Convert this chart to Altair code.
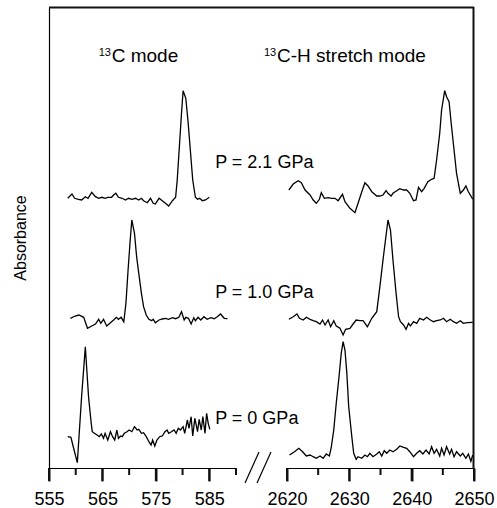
import altair as alt
import pandas as pd

# ---- 13C mode (left part of the broken axis) ----
c13_p21_wn = [558.5, 559.3, 559.8, 560.5, 561.1, 561.8, 562.3, 563.0, 563.7, 564.3, 564.9, 565.5, 566.0,
              566.7, 567.1, 567.5, 568.0, 568.7, 569.3, 569.9, 570.5, 571.2, 571.8, 572.3, 572.7, 573.4,
              574.0, 574.5, 574.9, 575.6, 576.2, 576.8, 577.4, 578.1, 578.7, 579.0, 579.4, 579.8, 580.1,
              580.6, 581.0, 581.5, 581.9, 582.4, 582.8, 583.2, 583.7, 584.3, 585.0]
c13_p21_ab = [269.7, 274.0, 269.7, 268.7, 268.0, 271.3, 269.7, 275.7, 271.3, 269.7, 270.7, 269.7, 270.7,
              270.7, 273.0, 274.7, 270.7, 269.7, 268.0, 269.7, 268.7, 269.7, 268.0, 269.7, 267.3, 265.3,
              269.7, 264.7, 264.0, 269.7, 267.3, 264.7, 262.0, 267.3, 270.7, 288.0, 321.3, 354.7, 377.3,
              369.7, 348.0, 314.7, 288.0, 270.7, 268.7, 269.7, 267.3, 268.0, 270.7]

c13_p10_wn = [559.0, 559.9, 560.6, 561.5, 562.2, 563.0, 563.7, 564.3, 564.7, 565.2, 565.8, 566.5, 567.1,
              567.6, 568.0, 568.5, 569.0, 569.4, 569.8, 570.2, 570.5, 571.0, 571.4, 571.8, 572.3, 572.7,
              573.2, 573.7, 574.2, 574.5, 574.9, 575.6, 576.2, 576.8, 577.4, 578.1, 578.7, 579.3, 579.8,
              580.3, 580.6, 581.1, 581.6, 582.1, 582.4, 582.9, 583.4, 584.0, 584.6, 585.3, 585.9, 586.5,
              587.1, 587.8, 588.4]
c13_p10_ab = [149.7, 152.0, 153.0, 150.7, 139.7, 142.0, 144.0, 148.7, 144.7, 148.7, 142.0, 145.3, 148.0,
              150.7, 148.7, 150.7, 146.3, 164.7, 198.0, 228.0, 248.0, 234.7, 211.3, 194.7, 174.7, 161.3,
              153.0, 148.7, 147.3, 148.7, 145.3, 148.0, 149.0, 149.7, 148.7, 150.3, 149.3, 150.7, 156.3,
              148.0, 150.7, 149.7, 144.0, 150.3, 147.3, 150.7, 148.0, 151.3, 148.7, 150.3, 149.3, 151.3,
              154.0, 149.7, 149.3]

c13_p0_wn = [558.5, 559.1, 559.6, 560.3, 561.1, 561.8, 562.4, 562.9, 563.1, 563.5, 564.0, 564.4, 564.8,
             565.2, 565.5, 566.0, 566.5, 566.9, 567.3, 567.7, 568.0, 568.4, 568.7, 569.1, 569.6, 570.0,
             570.5, 571.0, 571.5, 571.8, 572.3, 572.7, 573.2, 573.7, 574.1, 574.4, 574.8, 575.2, 575.7,
             576.2, 576.7, 577.1, 577.4, 577.9, 578.4, 578.8, 579.2, 579.6, 580.1, 580.4, 580.9, 581.2,
             581.6, 581.9, 582.3, 582.8, 583.1, 583.5, 583.8, 584.2, 584.5, 584.8, 585.1]
c13_p0_ab = [31.3, 30.7, 20.0, 5.3, 71.3, 121.3, 71.3, 44.7, 36.3, 34.7, 33.0, 31.3, 34.0,
             29.7, 34.7, 28.0, 36.3, 31.3, 28.0, 38.0, 29.7, 32.0, 31.3, 34.7, 36.3, 38.0,
             36.3, 41.3, 38.0, 38.7, 34.7, 35.3, 31.3, 26.3, 23.0, 28.0, 22.0, 28.0, 31.3,
             32.0, 36.3, 38.0, 34.7, 36.3, 38.0, 34.7, 39.7, 38.0, 41.3, 34.7, 48.0, 39.7,
             51.3, 32.0, 49.7, 36.3, 48.7, 38.0, 51.3, 34.7, 54.7, 44.7, 38.7]

# ---- 13C-H stretch mode (right part of the broken axis) ----
ch_p21_wn = [2620.3, 2621.0, 2621.8, 2622.3, 2622.9, 2623.7, 2624.2, 2624.7, 2625.2, 2625.5, 2626.0,
             2626.6, 2627.1, 2627.7, 2628.2, 2628.9, 2629.3, 2630.1, 2630.9, 2631.4, 2632.0, 2632.5,
             2633.0, 2633.6, 2634.4, 2634.9, 2635.4, 2635.9, 2636.2, 2636.7, 2637.0, 2637.6, 2638.1,
             2638.7, 2639.2, 2639.7, 2640.3, 2640.7, 2641.1, 2641.6, 2642.0, 2642.6, 2643.2, 2643.6,
             2644.0, 2644.5, 2644.8, 2645.3, 2645.6, 2646.0, 2646.4, 2646.8, 2647.2, 2647.8, 2648.3,
             2648.7, 2649.1, 2649.8]
ch_p21_ab = [278.0, 284.0, 287.3, 285.3, 278.0, 273.0, 268.0, 264.7, 268.7, 275.3, 269.7,
             270.3, 269.7, 269.7, 267.3, 273.7, 266.3, 259.7, 255.3, 264.7, 276.3, 285.3,
             282.0, 276.3, 272.0, 272.0, 273.0, 277.3, 274.7, 272.0, 274.7, 277.3, 279.3,
             278.0, 278.0, 274.7, 267.3, 268.0, 280.7, 276.3, 279.7, 286.3, 288.7, 289.7,
             308.0, 334.7, 358.0, 377.3, 371.3, 366.3, 341.3, 318.0, 294.7, 274.7, 278.0,
             282.0, 276.3, 268.7]

ch_p10_wn = [2620.3, 2621.0, 2621.6, 2622.0, 2622.6, 2623.1, 2623.7, 2624.2, 2624.7, 2625.3, 2625.7,
             2626.1, 2626.6, 2627.0, 2627.5, 2627.9, 2628.5, 2629.0, 2629.4, 2630.1, 2630.6, 2631.1,
             2631.7, 2632.2, 2632.9, 2633.6, 2634.4, 2634.9, 2635.4, 2636.0, 2636.2, 2636.6, 2637.0,
             2637.5, 2637.9, 2638.2, 2638.7, 2639.1, 2639.5, 2639.8, 2640.3, 2640.8, 2641.3, 2641.9,
             2642.4, 2643.0, 2643.5, 2644.0, 2644.6, 2645.1, 2645.6, 2646.2, 2646.7, 2647.2, 2647.8,
             2648.3, 2648.9, 2649.8]
ch_p10_ab = [148.7, 151.3, 154.0, 149.7, 148.0, 150.7, 148.7, 147.3, 146.3, 144.0, 148.0,
             143.0, 148.0, 141.3, 147.3, 142.0, 139.7, 133.0, 138.7, 139.7, 144.0, 148.0,
             147.3, 147.3, 141.3, 149.7, 156.3, 181.3, 208.0, 238.0, 248.0, 238.0, 208.0,
             174.7, 151.3, 146.3, 143.0, 138.7, 144.7, 142.0, 146.3, 144.7, 149.7, 148.0,
             150.7, 148.0, 146.3, 147.3, 148.0, 149.7, 146.3, 148.7, 146.3, 144.7, 147.3,
             144.7, 145.3, 145.7]

ch_p0_wn = [2620.4, 2621.2, 2621.9, 2622.5, 2623.1, 2623.7, 2624.2, 2624.7, 2625.3, 2625.8, 2626.3,
            2626.8, 2627.1, 2627.5, 2627.9, 2628.4, 2628.7, 2629.0, 2629.3, 2629.6, 2629.9, 2630.4,
            2630.7, 2631.1, 2631.4, 2632.0, 2632.5, 2632.9, 2633.3, 2633.8, 2634.4, 2634.8, 2635.2,
            2635.6, 2636.0, 2636.5, 2637.0, 2637.6, 2638.1, 2638.7, 2639.2, 2639.7, 2640.3, 2640.8,
            2641.3, 2641.8, 2642.3, 2642.8, 2643.2, 2643.6, 2644.0, 2644.5, 2644.8, 2645.2, 2645.6,
            2646.1, 2646.4, 2646.8, 2647.2, 2647.8, 2648.2, 2648.7, 2649.1, 2649.5, 2649.8]
ch_p0_ab = [13.0, 16.3, 19.7, 16.3, 12.0, 13.0, 11.3, 9.7, 12.0, 9.7, 14.0,
            12.0, 20.7, 38.0, 64.7, 94.7, 114.7, 126.3, 118.0, 94.7, 61.3, 31.3,
            14.7, 8.7, 11.3, 9.7, 13.0, 11.3, 14.7, 11.3, 14.0, 16.3, 12.0,
            17.3, 14.7, 18.0, 16.3, 18.7, 22.0, 20.7, 19.7, 16.3, 11.3, 14.7,
            17.3, 14.0, 18.0, 14.0, 21.3, 14.7, 18.7, 12.0, 19.7, 13.0, 21.3,
            14.0, 18.7, 11.3, 16.3, 12.0, 14.7, 9.7, 14.0, 6.7, 13.0]

major_ticks = [555, 565, 575, 585, 2620, 2630, 2640, 2650]
minor_ticks = [560, 570, 580, 590, 2625, 2635, 2645]
seg_start = [555, 2620]
seg_end = [590, 2650]


def frame(name, wn, ab):
    return pd.DataFrame({"wn": wn, "ab": ab, "trace": name})


spec_df = pd.concat([frame("13C 2.1", c13_p21_wn, c13_p21_ab),
                     frame("13C 1.0", c13_p10_wn, c13_p10_ab),
                     frame("13C 0", c13_p0_wn, c13_p0_ab),
                     frame("CH 2.1", ch_p21_wn, ch_p21_ab),
                     frame("CH 1.0", ch_p10_wn, ch_p10_ab),
                     frame("CH 0", ch_p0_wn, ch_p0_ab)])

W, H = 425, 461
FONT = "Liberation Sans"
INK = "#111111"
TW = 2

# broken (piecewise linear) wavenumber scale
x_scale = alt.Scale(domain=[555, 590, 2620, 2650], range=[0, 187, 238, 425], nice=False, zero=False)
y_scale = alt.Scale(domain=[0, 461], nice=False, zero=False)

x_enc = alt.X("wn:Q", scale=x_scale,
              axis=alt.Axis(title=None, values=major_ticks, orient="bottom", grid=False, domain=False,
                            ticks=True, tickSize=13, tickColor=INK, tickWidth=TW,
                            labelFontSize=18, labelColor="black", labelFont=FONT,
                            labelPadding=9, format="d", labelFlush=False, labelOverlap=False))
y_enc = alt.Y("ab:Q", scale=y_scale,
              axis=alt.Axis(title="Absorbance", labels=False, ticks=False, grid=False,
                            domainColor="black", domainWidth=1.2, titleFontSize=16,
                            titleFontWeight="normal", titlePadding=21, minExtent=0,
                            titleColor="black", titleFont=FONT))

lines = alt.Chart(spec_df).mark_line(color="black", strokeWidth=1.3).encode(
    x=x_enc, y=y_enc, detail="trace:N")

major = alt.Chart(pd.DataFrame({"wn": major_ticks})).mark_rule(color=INK, strokeWidth=TW).encode(
    x=alt.X("wn:Q"), y=alt.value(H), y2=alt.value(H + 13))
minor = alt.Chart(pd.DataFrame({"wn": minor_ticks})).mark_rule(color=INK, strokeWidth=TW).encode(
    x=alt.X("wn:Q"), y=alt.value(H), y2=alt.value(H + 7))

axis_segments = alt.Chart(pd.DataFrame({"wn": seg_start, "wn2": seg_end})).mark_rule(
    color="black", strokeWidth=1.2).encode(x=alt.X("wn:Q"), x2="wn2:Q", y=alt.value(H + 0.5))


def label(text, x, y, size):
    return alt.Chart(pd.DataFrame({"a": [0]})).mark_text(
        text=text, align="left", baseline="alphabetic", fontSize=size, font=FONT, color="black"
    ).encode(x=x, y=y)


texts = [
    label("13", alt.datum(564.3), alt.datum(412), 11),
    label("C mode", alt.datum(566.73), alt.datum(406), 19),
    label("13", alt.value(215), alt.datum(412), 11),
    label("C-H stretch mode", alt.value(228), alt.datum(406), 19),
    label("P = 2.1 GPa", alt.datum(586.1), alt.datum(300), 18),
    label("P = 1.0 GPa", alt.datum(586.1), alt.datum(170), 18),
    label("P = 0 GPa", alt.datum(586.1), alt.datum(44), 18),
]

one = pd.DataFrame({"a": [0]})
top_border = alt.Chart(one).mark_rule(color=INK, strokeWidth=TW).encode(
    x=alt.value(0), x2=alt.value(W), y=alt.value(0.5), y2=alt.value(0.5))
right_border = alt.Chart(one).mark_rule(color=INK, strokeWidth=TW).encode(
    x=alt.value(W - 0.5), x2=alt.value(W - 0.5), y=alt.value(0), y2=alt.value(H))
slash1 = alt.Chart(one).mark_rule(color="black", strokeWidth=1.2).encode(
    x=alt.value(196), x2=alt.value(210), y=alt.value(476), y2=alt.value(445))
slash2 = alt.Chart(one).mark_rule(color="black", strokeWidth=1.2).encode(
    x=alt.value(208), x2=alt.value(222), y=alt.value(476), y2=alt.value(445))

chart = alt.layer(lines, major, minor, axis_segments, *texts, top_border, right_border,
                  slash1, slash2).properties(
    width=W, height=H,
    autosize=alt.AutoSizeParams(type="none"),
    padding={"left": 49, "top": 7, "right": 23, "bottom": 40},
    background="white",
).configure_view(strokeWidth=0)

chart.save("out.html", embed_options={"renderer": "svg", "actions": False})
